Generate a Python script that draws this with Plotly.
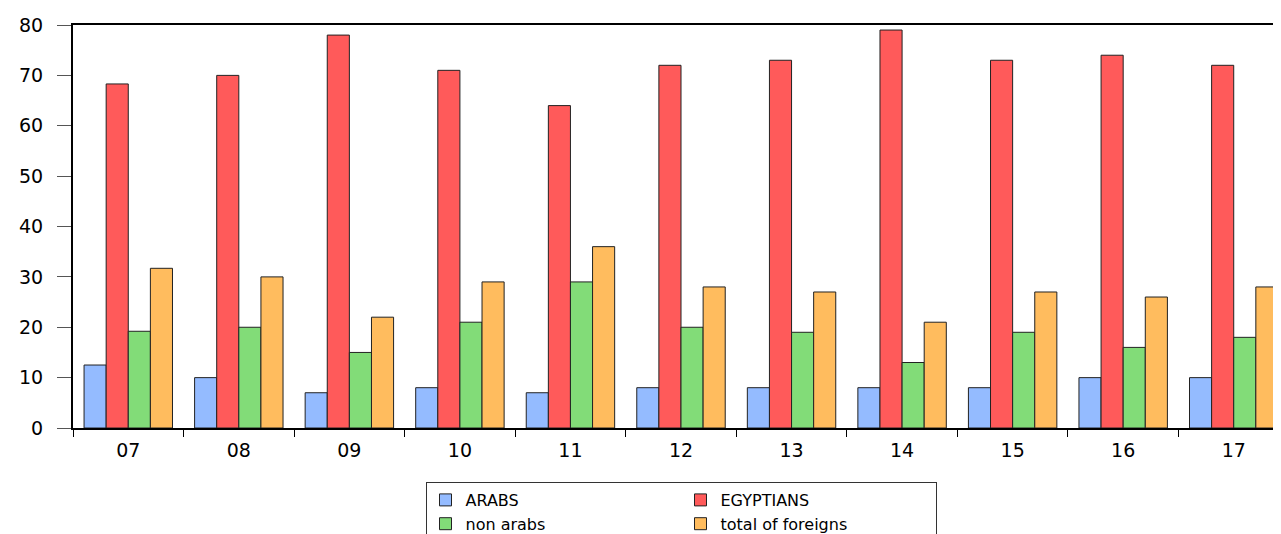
import plotly.graph_objects as go

years = ["07", "08", "09", "10", "11", "12", "13", "14", "15", "16", "17"]
arabs = [12.5, 10, 7, 8, 7, 8, 8, 8, 8, 10, 10]
egyptians = [68.3, 70, 78, 71, 64, 72, 73, 79, 73, 74, 72]
non_arabs = [19.2, 20, 15, 21, 29, 20, 19, 13, 19, 16, 18]
total_foreigns = [31.7, 30, 22, 29, 36, 28, 27, 21, 27, 26, 28]

series = [
    ("ARABS", arabs, "#94BBFF", "g1"),
    ("EGYPTIANS", egyptians, "#FF5A5A", "g2"),
    ("non arabs", non_arabs, "#82DC78", "g1"),
    ("total of foreigns", total_foreigns, "#FFBC5E", "g2"),
]

fig = go.Figure()
for name, vals, color, grp in series:
    fig.add_trace(go.Bar(
        x=years, y=vals, name=name, legendgroup=grp,
        marker=dict(color=color, line=dict(color="#222222", width=1)),
    ))

font_family = "DejaVu Sans"
fig.update_layout(
    width=1281, height=534,
    margin=dict(l=65, r=0, t=17, b=114, autoexpand=False),
    paper_bgcolor="white", plot_bgcolor="white",
    barmode="group", bargap=0.2, bargroupgap=0,
    font=dict(family=font_family, size=19, color="black"),
    showlegend=True,
    legend=dict(
        orientation="h", traceorder="grouped",
        x=0.5, xanchor="center", y=-0.134, yanchor="top",
        bordercolor="#333333", borderwidth=1, bgcolor="white",
        font=dict(family=font_family, size=16, color="black"),
        tracegroupgap=0, entrywidth=210,
    ),
)
fig.update_xaxes(
    type="category", range=[-0.5, 10.5],
    showline=True, linecolor="black", linewidth=2, mirror=True,
    ticks="outside", tickson="boundaries", ticklen=7, tickcolor="black",
    showgrid=False, tickfont=dict(size=19, family=font_family),
    ticklabelstandoff=4,
)
fig.update_yaxes(
    range=[0, 80], dtick=10, tick0=0,
    showline=True, linecolor="black", linewidth=2,
    ticks="outside", ticklen=14, tickcolor="#555555",
    showgrid=False, zeroline=False,
    tickfont=dict(size=19, family=font_family),
    ticklabelstandoff=10,
)

fig.write_html("out.html")
